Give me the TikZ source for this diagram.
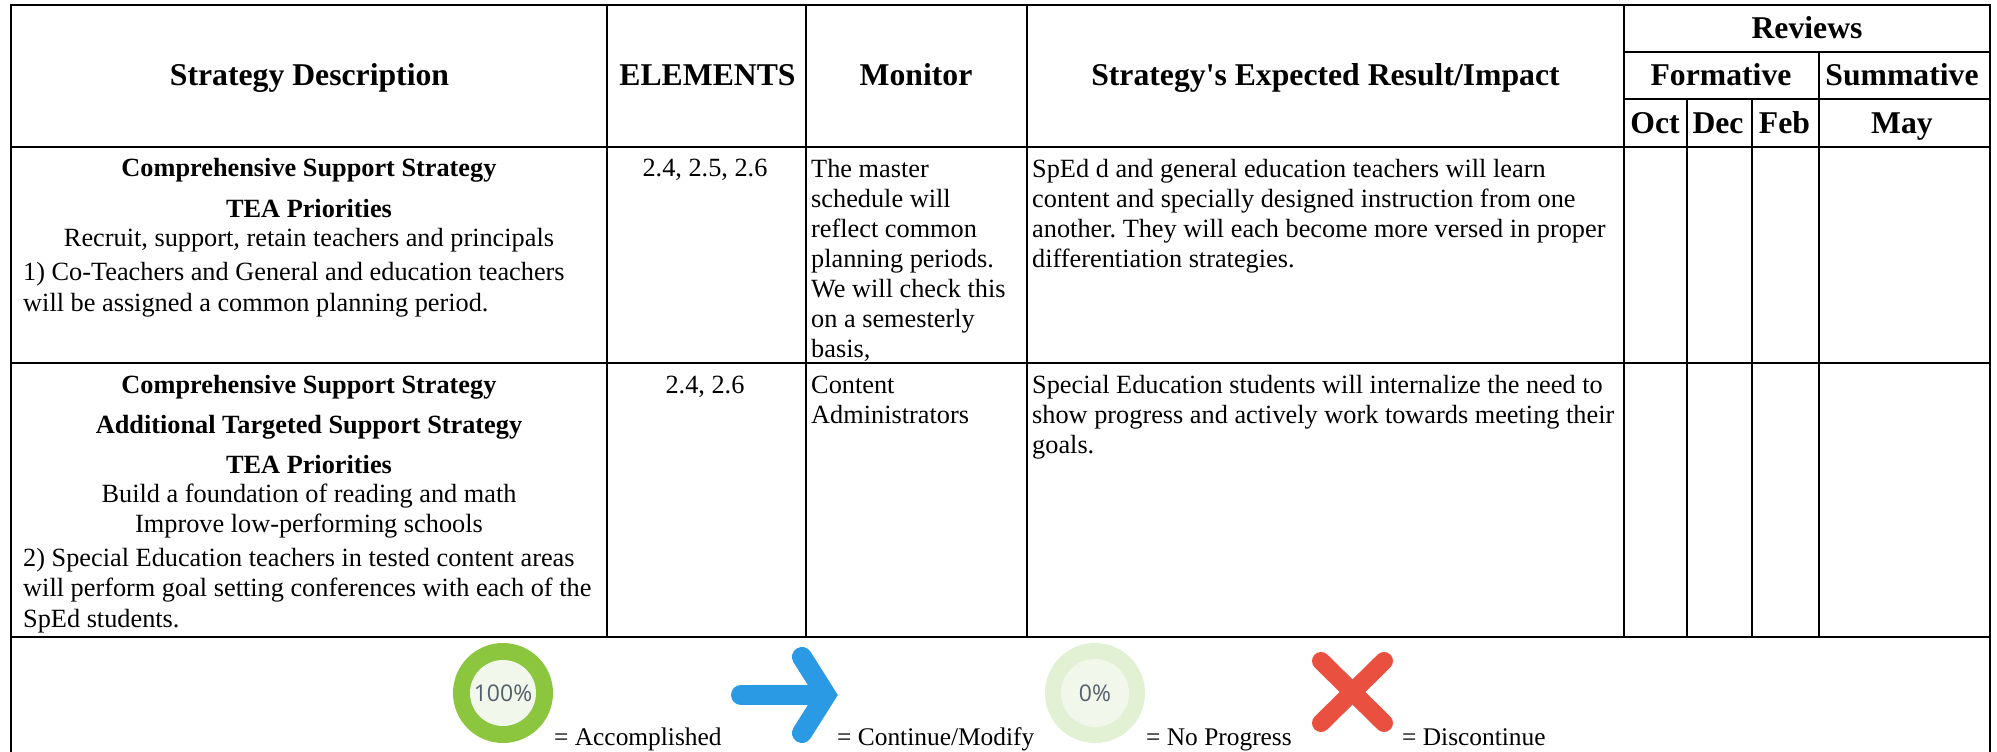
\documentclass[tikz,border=0pt]{standalone}
\usepackage{fontspec}
\setmainfont{Liberation Serif}[Ligatures=TeXOff]
\newfontfamily\iconfont{Open Sans}
\definecolor{ringdone}{HTML}{8CC63F}
\definecolor{ringnone}{HTML}{E2F0D4}
\definecolor{ringin}{HTML}{F1F7EA}
\definecolor{arrowblue}{HTML}{2B9AE5}
\definecolor{crossred}{HTML}{E95040}
\definecolor{pcttext}{HTML}{55606E}
\tikzset{
  x=1pt,y=-1pt,
  grid/.style={draw=black,line width=2.5pt},
  headcell/.style={font=\frenchspacing\fontsize{31.7}{36}\selectfont\bfseries,inner sep=0pt,anchor=base},
  bodyc/.style={font=\frenchspacing\fontsize{26.3}{30}\selectfont,inner sep=0pt,anchor=base},
  boldc/.style={font=\frenchspacing\fontsize{26.3}{30}\selectfont\bfseries,inner sep=0pt,anchor=base},
  bodyl/.style={font=\frenchspacing\fontsize{26.3}{30}\selectfont,inner sep=0pt,anchor=base west},
  legendtext/.style={font=\frenchspacing\fontsize{25.4}{30}\selectfont,inner sep=0pt,anchor=base west},
  pct/.style={font=\fontsize{23}{26}\iconfont,inner sep=0pt,text=pcttext},
}
\begin{document}
\begin{tikzpicture}
\useasboundingbox (0,0) rectangle (1997,752);
\fill[white] (0,0) rectangle (1997,752);
% grid
\draw[grid] (11,752) -- (11,5) -- (1990,5) -- (1990,752);
\draw[grid] (1624,52) -- (1990,52);
\draw[grid] (1624,99) -- (1990,99);
\draw[grid] (11,147) -- (1990,147);
\draw[grid] (11,363) -- (1990,363);
\draw[grid] (11,637) -- (1990,637);
\foreach \c in {607,806,1027,1624} \draw[grid] (\c,5) -- (\c,637);
\draw[grid] (1819,52) -- (1819,637);
\foreach \c in {1687,1752} \draw[grid] (\c,99) -- (\c,637);
% header
\node[headcell] (h1) at (309.5,85) {Strategy Description};
\node[headcell] (h2) at (707.5,85) {ELEMENTS};
\node[headcell] (h3) at (916,85) {Monitor};
\node[headcell] (h4) at (1325.5,85) {Strategy's Expected Result/Impact};
\node[headcell] (r0) at (1807,38.5) {Reviews};
\node[headcell] (r1) at (1721,85) {Formative};
\node[headcell] (r2) at (1902,85) {Summative};
\node[headcell] (m1) at (1655,133) {Oct};
\node[headcell] (m2) at (1718,133) {Dec};
\node[headcell] (m3) at (1784.5,133) {Feb};
\node[headcell] (m4) at (1902,133) {May};
% row 1
\node[boldc] (a1) at (309,176.5) {Comprehensive Support Strategy};
\node[boldc] (a2) at (309,217) {TEA Priorities};
\node[bodyc] (a3) at (309,246) {Recruit, support, retain teachers and principals};
\node[bodyl] (a4) at (23,280.5) {1) Co-Teachers and General and education teachers};
\node[bodyl] (a5) at (23,311) {will be assigned a common planning period.};
\node[bodyc] (e1) at (705,176.5) {2.4, 2.5, 2.6};
\node[bodyl] (b1) at (811,177) {The master};
\node[bodyl] (b2) at (811,207) {schedule will};
\node[bodyl] (b3) at (811,237) {reflect common};
\node[bodyl] (b4) at (811,267) {planning periods.};
\node[bodyl] (b5) at (811,297) {We will check this};
\node[bodyl] (b6) at (811,327) {on a semesterly};
\node[bodyl] (b7) at (811,357) {basis,};
\node[bodyl] (c1) at (1032,177) {SpEd d and general education teachers will learn};
\node[bodyl] (c2) at (1032,207) {content and specially designed instruction from one};
\node[bodyl] (c3) at (1032,237) {another. They will each become more versed in proper};
\node[bodyl] (c4) at (1032,267) {differentiation strategies.};
% row 2
\node[boldc] (d1) at (309,393) {Comprehensive Support Strategy};
\node[boldc] (d2) at (309,433) {Additional Targeted Support Strategy};
\node[boldc] (d3) at (309,473) {TEA Priorities};
\node[bodyc] (d4) at (309,502) {Build a foundation of reading and math};
\node[bodyc] (d5) at (309,532) {Improve low-performing schools};
\node[bodyl] (d6) at (23,566.5) {2) Special Education teachers in tested content areas};
\node[bodyl] (d7) at (23,596.5) {will perform goal setting conferences with each of the};
\node[bodyl] (d8) at (23,627) {SpEd students.};
\node[bodyc] (e2) at (705,393) {2.4, 2.6};
\node[bodyl] (f1) at (811,393) {Content};
\node[bodyl] (f2) at (811,423) {Administrators};
\node[bodyl] (g1) at (1032,393) {Special Education students will internalize the need to};
\node[bodyl] (g2) at (1032,423) {show progress and actively work towards meeting their};
\node[bodyl] (g3) at (1032,453) {goals.};
% legend icons
\fill[ringdone] (503,693) circle (50);
\fill[ringin] (503,693) circle (33);
\node[pct] (p1) at (503,693) {100\%};
\fill[ringnone] (1095,693) circle (50);
\fill[ringin] (1095,693) circle (34);
\node[pct] (p2) at (1095,693) {0\%};
\draw[arrowblue,line width=20pt,line cap=round] (741,695) -- (822,695);
\draw[arrowblue,line width=20pt,line cap=round,line join=miter] (802,657) -- (826,695) -- (802,733);
\draw[crossred,line width=18pt,line cap=round] (1321,661) -- (1384,723);
\draw[crossred,line width=18pt,line cap=round] (1384,661) -- (1321,723);
\node[legendtext] (l1) at (554,745) {= Accomplished};
\node[legendtext] (l2) at (837,745) {= Continue/Modify};
\node[legendtext] (l3) at (1146,745) {= No Progress};
\node[legendtext] (l4) at (1402,745) {= Discontinue};
\end{tikzpicture}
\end{document}
